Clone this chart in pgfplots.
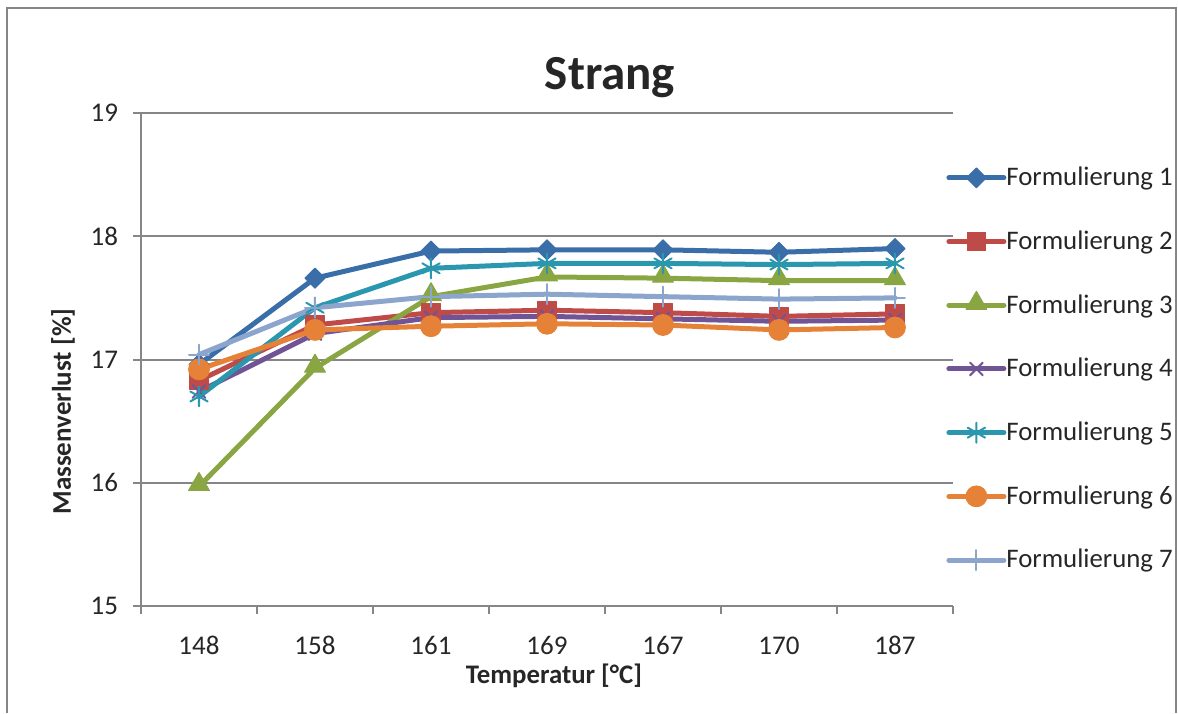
\documentclass[border=0pt]{standalone}
\usepackage{fontspec}
\setmainfont{Carlito}
\usepackage{pgfplots}
\pgfplotsset{compat=1.18}
\definecolor{axgray}{RGB}{134,134,134}
\definecolor{c1}{RGB}{58,110,168}
\definecolor{c2}{RGB}{190,75,72}
\definecolor{c3}{RGB}{137,166,67}
\definecolor{c4}{RGB}{112,84,150}
\definecolor{c5}{RGB}{42,151,174}
\definecolor{c6}{RGB}{230,130,55}
\definecolor{c7}{RGB}{140,165,205}
\begin{document}
\begin{tikzpicture}
\useasboundingbox (0,0) rectangle (589pt,-356.5pt);
\draw[axgray, line width=1pt] (3.5pt,-356.5pt) -- (3.5pt,-4pt) -- (588pt,-4pt) -- (588pt,-356.5pt);
\begin{axis}[
  at={(70.5pt,-303pt)}, anchor=south west,
  scale only axis, width=406pt, height=246.5pt,
  xmin=-0.5, xmax=6.5, ymin=15, ymax=19,
  axis x line*=bottom, axis y line*=left,
  axis line style={-, draw=axgray, line width=1pt},
  xtick={0,...,6}, xticklabels={148,158,161,169,167,170,187},
  minor xtick={-0.5,0.5,...,6.5},
  ytick={15,16,17,18,19},
  tick align=outside,
  major tick length=4pt, minor tick length=4pt,
  tick style={axgray, line width=1pt},
  every major x tick/.append style={draw=none},
  ymajorgrids, grid style={axgray, line width=1pt},
  /pgf/number format/assume math mode=true,
  ticklabel style={font=\fontsize{13.5}{16}\selectfont, text=black!85},
  xticklabel style={anchor=base, inner ysep=0pt, yshift=-20pt},
  yticklabel style={anchor=east, xshift=-4pt},
  legend style={at={(0.9914,0.9339)}, anchor=north west, draw=none, fill=none,
    inner sep=0pt, font=\fontsize{13.4}{16}\selectfont, text=black!85,
    cells={anchor=west}, nodes={inner sep=0pt, minimum height=31.85pt},
    /tikz/column sep=0pt},
  legend image code/.code={\draw[mark repeat=2,mark phase=2] plot coordinates {(0pt,0pt)(13.75pt,0pt)(27.5pt,0pt)};},
  every axis plot/.append style={line width=2.5pt, line join=round, line cap=round},
]
\addplot[c1, mark=diamond*, mark size=5pt, mark options={fill=c1, line width=0.5pt, xscale=1.33}]
  coordinates {(0,16.96)(1,17.66)(2,17.88)(3,17.89)(4,17.89)(5,17.87)(6,17.90)};
\addlegendentry{Formulierung 1}
\addplot[c2, mark=square*, mark size=4.6pt, mark options={fill=c2, line width=0.5pt}]
  coordinates {(0,16.83)(1,17.28)(2,17.38)(3,17.40)(4,17.38)(5,17.35)(6,17.37)};
\addlegendentry{Formulierung 2}
\addplot[c3, mark=triangle*, mark size=6pt, mark options={fill=c3, line width=0.5pt, yshift=1pt}]
  coordinates {(0,15.97)(1,16.93)(2,17.51)(3,17.67)(4,17.66)(5,17.64)(6,17.64)};
\addlegendentry{Formulierung 3}
\addplot[c4, mark=x, mark size=4.5pt, mark options={line width=1pt}]
  coordinates {(0,16.74)(1,17.21)(2,17.34)(3,17.35)(4,17.33)(5,17.31)(6,17.32)};
\addlegendentry{Formulierung 4}
\addplot[c5, mark=asterisk, mark size=5pt, mark options={line width=1pt}]
  coordinates {(0,16.70)(1,17.42)(2,17.74)(3,17.78)(4,17.78)(5,17.77)(6,17.78)};
\addlegendentry{Formulierung 5}
\addplot[c6, mark=*, mark size=5.2pt, mark options={fill=c6, line width=0.5pt}]
  coordinates {(0,16.92)(1,17.24)(2,17.27)(3,17.29)(4,17.28)(5,17.24)(6,17.26)};
\addlegendentry{Formulierung 6}
\addplot[c7, mark=+, mark size=5pt, mark options={line width=1pt}]
  coordinates {(0,17.04)(1,17.42)(2,17.51)(3,17.53)(4,17.51)(5,17.49)(6,17.50)};
\addlegendentry{Formulierung 7}
\end{axis}
\node[anchor=base, font=\fontsize{24.5}{28}\selectfont\bfseries, text=black!85] at (305pt,-44.5pt) {Strang};
\node[rotate=90, font=\fontsize{13.5}{16}\selectfont\bfseries, text=black!85] at (31.5pt,-205.75pt) {Massenverlust [\%]};
\node[anchor=base, inner sep=0pt, font=\fontsize{13.4}{16}\selectfont\bfseries, text=black!85] at (277pt,-341.5pt) {Temperatur [°C]};
\end{tikzpicture}
\end{document}
